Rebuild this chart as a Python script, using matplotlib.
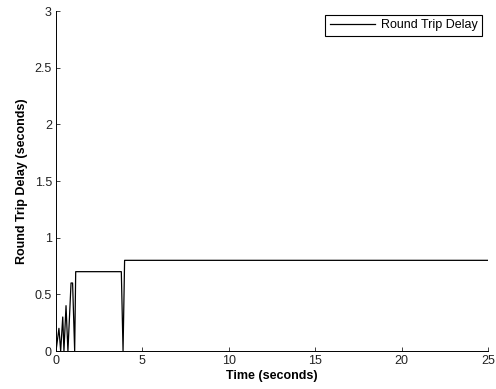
import matplotlib
matplotlib.use('Agg')
import matplotlib.pyplot as plt

# Temps (s) et délai aller-retour (s)
t = [0, 0.17, 0.27, 0.39, 0.46, 0.58, 0.69, 0.87, 0.96, 1.08, 1.14, 3.78, 3.88, 3.97, 25]
delay = [0, 0.2, 0, 0.3, 0, 0.4, 0, 0.6, 0.6, 0, 0.7, 0.7, 0, 0.8, 0.8]

plt.rcParams['font.family'] = ['Liberation Sans', 'DejaVu Sans']
plt.rcParams['font.size'] = 9

fig = plt.figure(figsize=(4.96, 3.89), dpi=100)
ax = fig.add_axes([56 / 496, 1 - 351 / 389, 432 / 496, 340 / 389])
ax.plot(t, delay, color='black', linewidth=0.9, label='Round Trip Delay')

ax.set_xlim(0, 25)
ax.set_ylim(0, 3)
ax.set_xticks([0, 5, 10, 15, 20, 25])
ax.set_yticks([0, 0.5, 1, 1.5, 2, 2.5, 3])
ax.set_yticklabels(['0', '0.5', '1', '1.5', '2', '2.5', '3'])
ax.tick_params(direction='in', length=3, width=0.6, pad=3, colors='#222222')
ax.spines['top'].set_visible(False)
ax.spines['right'].set_visible(False)
for s in ['left', 'bottom']:
    ax.spines[s].set_linewidth(0.7)

ax.set_xlabel('Time (seconds)', fontweight='bold', labelpad=2)
ax.set_ylabel('Round Trip Delay (seconds)', fontweight='bold', labelpad=5)

leg = ax.legend(loc='upper right', bbox_to_anchor=(0.986, 0.988), fancybox=False,
                edgecolor='black', framealpha=1, borderpad=0.35, handlelength=3.6,
                handletextpad=0.5, borderaxespad=0)
leg.get_frame().set_linewidth(0.8)

fig.savefig('out.png', dpi=100)
